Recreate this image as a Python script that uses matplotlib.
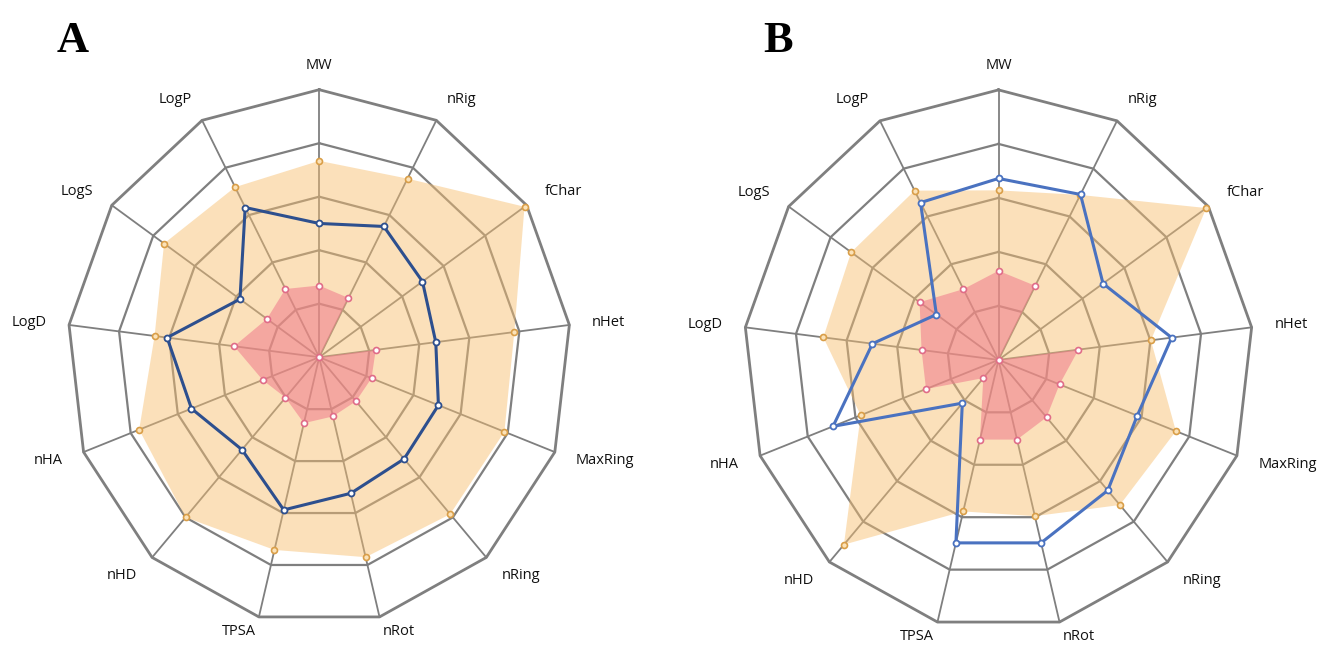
import numpy as np
import matplotlib.pyplot as plt

W, H = 1321, 648

# Physicochemical properties, clockwise from the top
labels = ["MW", "nRig", "fChar", "nHet", "MaxRing", "nRing", "nRot",
          "TPSA", "nHD", "nHA", "LogD", "LogS", "LogP"]

# compound A (grid units, 0-5)
upper_a = [3.67, 3.77, 4.95, 3.90, 3.93, 3.92, 3.85, 3.71, 4.00, 3.82, 3.29, 3.74, 3.59]
lower_a = [1.34, 1.25, 0.00, 1.13, 1.11, 1.10, 1.14, 1.27, 1.01, 1.20, 1.70, 1.26, 1.44]
value_a = [2.50, 2.76, 2.49, 2.33, 2.53, 2.54, 2.62, 2.94, 2.31, 2.71, 3.04, 1.91, 3.16]

# compound B
upper_b = [3.14, 3.45, 4.95, 3.01, 3.72, 3.59, 2.98, 2.89, 4.57, 2.89, 3.46, 3.51, 3.54]
lower_b = [1.65, 1.55, 0.00, 1.58, 1.28, 1.42, 1.52, 1.52, 0.45, 1.52, 1.52, 1.88, 1.48]
value_b = [3.36, 3.46, 2.49, 3.42, 2.91, 3.23, 3.49, 3.49, 1.07, 3.47, 2.49, 1.48, 3.29]

n = len(labels)
angles = np.arange(n) * 2 * np.pi / n
GRID = "#7f7f7f"


def to_xy(vals, closed=True):
    r = np.asarray(vals, dtype=float)
    x, y = r * np.sin(angles), r * np.cos(angles)
    if closed:
        x, y = np.append(x, x[0]), np.append(y, y[0])
    return x, y


def radar(ax, upper, lower, value, line_color):
    # polygon rings and spokes
    for k in range(1, 6):
        x, y = to_xy(np.full(n, k))
        ax.plot(x, y, color=GRID, lw=2.0 if k == 5 else 1.6, zorder=1)
    for a in angles:
        ax.plot([0, 5 * np.sin(a)], [0, 5 * np.cos(a)], color=GRID, lw=1.3, zorder=1)

    # upper / lower limit areas, drawn see-through over the grid
    x, y = to_xy(upper)
    ax.fill(x, y, color="#F7BE6E", alpha=0.47, lw=0, zorder=2)
    ax.plot(x[:-1], y[:-1], "o", ms=4.3, mfc="#FBE2B8", mec="#D99E48", mew=1.2, zorder=4)
    x, y = to_xy(lower)
    ax.fill(x, y, color="#F0788C", alpha=0.55, lw=0, zorder=3)
    ax.plot(x[:-1], y[:-1], "o", ms=4.3, mfc="white", mec="#E06C88", mew=1.2, zorder=4)

    # compound values
    x, y = to_xy(value)
    ax.plot(x, y, "-", color=line_color, lw=2.2, zorder=5)
    ax.plot(x[:-1], y[:-1], "o", ms=4.3, mfc="white", mec=line_color, mew=1.3, zorder=6)

    for a, lab in zip(angles, labels):
        s, c = np.sin(a), np.cos(a)
        if abs(s) < 1e-6:
            ha = "center"
        else:
            ha = "left" if s > 0 else "right"
        r = 5.45 if c > -0.9 else 5.28
        ax.text(r * s, r * c, lab, ha=ha, va="center", fontsize=10.5,
                family="Open Sans", color="#111111")

    ax.set_xlim(-6, 6)
    ax.set_ylim(-6, 6)
    ax.axis("off")


def radar_axes(fig, cx, cy, ux, uy, ext=6):
    return fig.add_axes([(cx - ext * ux) / W, (H - cy - ext * uy) / H,
                         2 * ext * ux / W, 2 * ext * uy / H])


fig = plt.figure(figsize=(W / 100, H / 100), dpi=100)

ax_a = radar_axes(fig, 319.2, 357.2, 50.4, 53.5)
radar(ax_a, upper_a, lower_a, value_a, "#2D4F8E")

ax_b = radar_axes(fig, 998.5, 359.9, 51.0, 54.0)
radar(ax_b, upper_b, lower_b, value_b, "#4A72C0")

for x, letter in [(57, "A"), (763, "B")]:
    fig.text(x / W, 1 - 52 / H, letter, ha="left", va="baseline", fontsize=32,
             fontweight="bold", family="Liberation Serif")

fig.savefig("out.png", dpi=100)
